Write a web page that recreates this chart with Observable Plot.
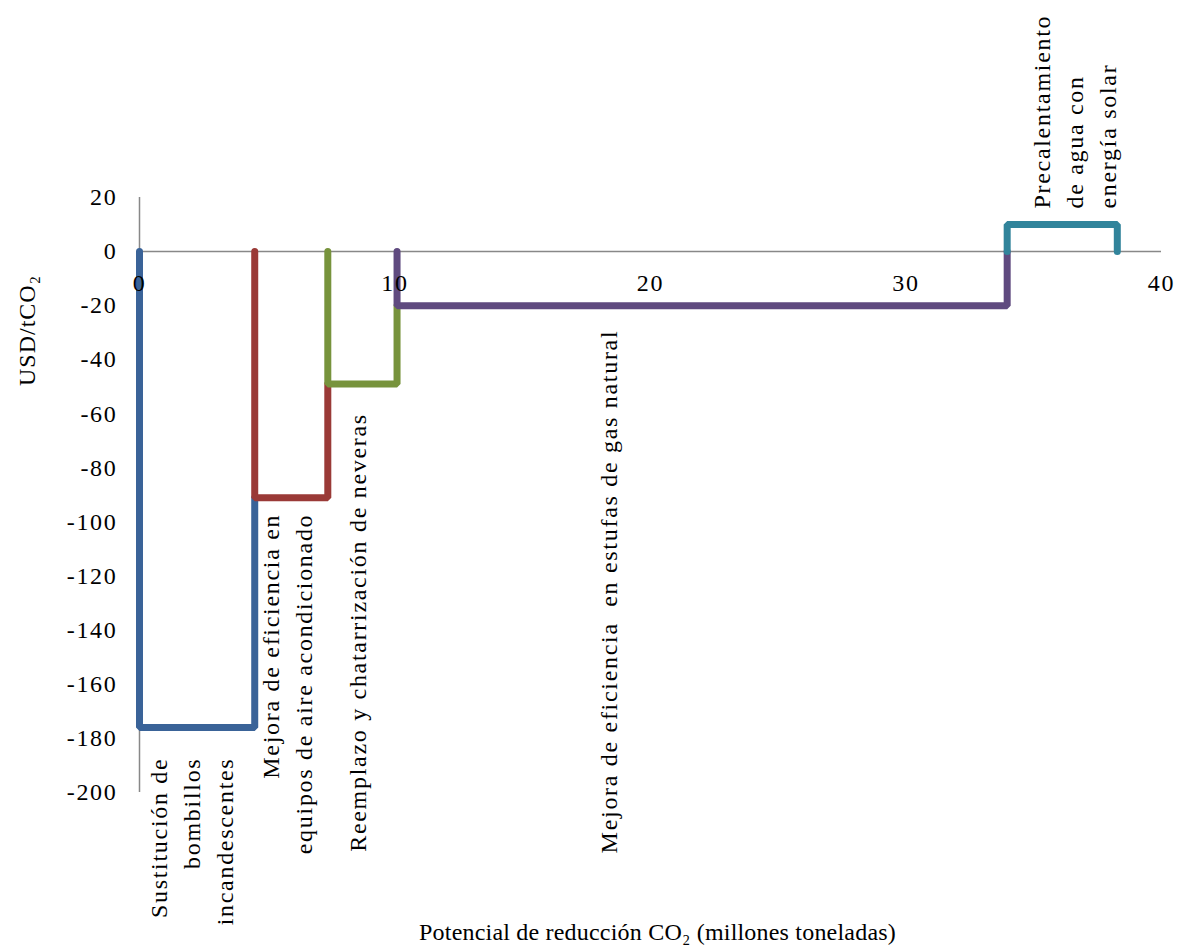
<!DOCTYPE html>
<html>
<head>
<meta charset="utf-8">
<script src="https://cdn.jsdelivr.net/npm/d3@7"></script>
<script src="https://cdn.jsdelivr.net/npm/@observablehq/plot@0.6"></script>
<style>
  html, body { margin: 0; padding: 0; background: #fff; }
  #chart svg { display: block; }
  #chart svg text { letter-spacing: 1.7px; }
</style>
</head>
<body>
<div id="chart"></div>
<script>
// ---- Data ----
const measures = [
  "Sustitución de\nbombillos\nincandescentes",
  "Mejora de eficiencia en\nequipos de aire acondicionado",
  "Reemplazo y chatarrización de neveras",
  "Mejora de eficiencia  en estufas de gas natural",
  "Precalentamiento\nde agua con\nenergía solar"
];
const potential = [4.51, 2.86, 2.71, 23.88, 4.31];   // millones toneladas CO2
const costs = [-176, -91, -49, -20, 10];              // USD/tCO2
const seriesColors = ["#3A6398", "#9A3A37", "#77933C", "#5F4A7F", "#31849B"];
const xTicks = [0, 10, 20, 30, 40];
const yTicks = [20, 0, -20, -40, -60, -80, -100, -120, -140, -160, -180, -200];
const xTitle = "Potencial de reducción CO₂ (millones toneladas)";
const yTitle = "USD/tCO₂";

// ---- Derived step segments ----
let acc = 0;
const segs = measures.map((m, i) => {
  const start = acc;
  acc += potential[i];
  return { m, start, end: acc, cost: costs[i] };
});
const pts = segs.flatMap((s, i) => {
  const next = i < segs.length - 1 ? Math.min(segs[i + 1].cost, 0) : 0;
  return [
    { m: s.m, x: s.start, y: 0 },
    { m: s.m, x: s.start, y: s.cost },
    { m: s.m, x: s.end, y: s.cost },
    { m: s.m, x: s.end, y: next }
  ];
});

// label nudges (pixels)
const labelNudge = [
  { dx: -8, dy: 30 },
  { dx: -6, dy: 16 },
  { dx: -7, dy: 29 },
  { dx: -96, dy: 24 },
  { dx: 10, dy: -16 }
];

const FS = 24;
const labelMarks = segs.map((s, i) =>
  Plot.text([s], {
    x: d => (d.start + d.end) / 2,
    y: "cost",
    text: "m",
    rotate: -90,
    textAnchor: s.cost < 0 ? "end" : "start",
    lineAnchor: "middle",
    lineHeight: 1.375,
    fontSize: FS,
    fill: "#000",
    dx: labelNudge[i].dx,
    dy: labelNudge[i].dy
  })
);

const chart = Plot.plot({
  width: 1179,
  height: 947,
  marginLeft: 139,
  marginRight: 18,
  marginTop: 197,
  marginBottom: 155,
  x: { domain: [0, 40], axis: null },
  y: { domain: [-200, 20], axis: null },
  color: { domain: measures, range: seriesColors },
  style: { fontFamily: "'Liberation Serif', 'Times New Roman', serif", fontSize: FS + "px", color: "#000", background: "#fff" },
  marks: [
    Plot.ruleY([0], { x1: 0, x2: 40, stroke: "#888", strokeWidth: 1.5 }),
    Plot.ruleX([0], { y1: -200, y2: 20, stroke: "#888", strokeWidth: 1.5 }),
    Plot.axisY(yTicks, { tickSize: 0, tickPadding: 22, tickFormat: d => String(d), fontSize: FS, label: null }),
    Plot.line(pts, { x: "x", y: "y", z: "m", stroke: "m", strokeWidth: 7, strokeLinejoin: "miter", strokeLinecap: "round" }),
    Plot.text(xTicks, { x: d => d, y: 0, dy: 32, text: d => String(d), fontSize: FS, lineAnchor: "middle", fill: "#000" }),
    ...labelMarks,
    Plot.text([yTitle], { frameAnchor: "top-left", dx: -112, dy: 133, rotate: -90, textAnchor: "middle", lineAnchor: "middle", fontSize: FS, fill: "#000" }),
    Plot.text([xTitle], { frameAnchor: "bottom", dx: 7, dy: 140, textAnchor: "middle", lineAnchor: "middle", fontSize: FS, fill: "#000" })
  ]
});
d3.select(chart).selectAll("text").filter(function () { return this.textContent === xTitle; })
  .style("letter-spacing", "0.2px");
d3.select(chart).selectAll("text").filter(function () { return this.textContent === yTitle; })
  .style("letter-spacing", "1px");
document.getElementById("chart").appendChild(chart);
</script>
</body>
</html>
